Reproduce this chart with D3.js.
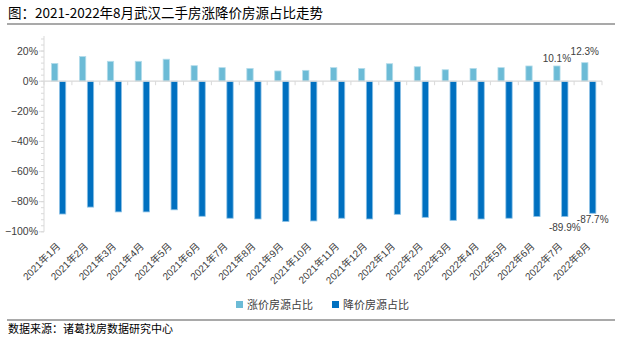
<!DOCTYPE html>
<html><head><meta charset="utf-8">
<script src="https://cdn.jsdelivr.net/npm/d3@7"></script>
<style>body{margin:0;background:#fff}svg{display:block}</style>
</head><body>
<script>
const categories = ["2021年1月","2021年2月","2021年3月","2021年4月","2021年5月","2021年6月","2021年7月","2021年8月","2021年9月","2021年10月","2021年11月","2021年12月","2022年1月","2022年2月","2022年3月","2022年4月","2022年5月","2022年6月","2022年7月","2022年8月"];
const riseShare = [11.8,16.4,13.2,13.2,14.6,10.3,9.0,8.5,6.8,7.2,9.0,8.5,11.6,9.6,7.6,8.5,9.0,10.1,10.1,12.3];
const fallShare = [-88.2,-83.6,-86.8,-86.8,-85.4,-89.7,-91.0,-91.5,-93.2,-92.8,-91.0,-91.5,-88.4,-90.4,-92.4,-91.5,-91.0,-89.9,-89.9,-87.7];
const seriesNames = ["涨价房源占比","降价房源占比"];
const yTicks = [-100,-80,-60,-40,-20,0,20];
const labeledIndex = [18,19];

const W=623,H=341;
const colors=["#6CBBD6","#0070C0"];
const strokes=["#B5DDEB","#8EC3E6"];
const svg=d3.select("body").append("svg").attr("width",W).attr("height",H);
const cjk="'Noto Sans CJK SC','Microsoft YaHei',sans-serif";
const lat="'Liberation Sans',Arial,'Noto Sans CJK SC',sans-serif";

// title
svg.append("text").attr("x",8).attr("y",18).attr("font-family",cjk).attr("font-size",13.5).attr("fill","#000")
  .text("图：2021-2022年8月武汉二手房涨降价房源占比走势");
svg.append("line").attr("x1",7).attr("x2",615).attr("y1",24).attr("y2",24).attr("stroke","#8c8c8c").attr("stroke-width",1.5);

const x=d3.scaleBand().domain(categories).range([44,602]).padding(0);
const inner=d3.scaleBand().domain([0,1]).range([x.bandwidth()*0.27,x.bandwidth()*0.78]).paddingInner(0.2);
const y=d3.scaleLinear().domain([-100,30]).range([231.8,36]);

// y axis
const ya=svg.append("g").attr("transform","translate(44,0)");
ya.append("line").attr("y1",y(30)).attr("y2",y(-100)).attr("stroke","#d9d9d9");
ya.selectAll("line.minor").data(d3.range(-100,30,4)).join("line").attr("class","minor")
  .attr("x1",-3).attr("x2",0).attr("y1",d=>y(d)).attr("y2",d=>y(d)).attr("stroke","#d9d9d9");
ya.selectAll("line.major").data(yTicks).join("line").attr("class","major")
  .attr("x1",-5).attr("x2",0).attr("y1",d=>y(d)).attr("y2",d=>y(d)).attr("stroke","#d9d9d9");
ya.selectAll("text").data(yTicks).join("text").attr("x",-6).attr("y",d=>y(d)).attr("dy","0.35em")
  .attr("text-anchor","end").attr("font-family",lat).attr("font-size",10.5).attr("fill","#404040")
  .text(d=>(d<0?"−"+(-d):d)+"%");

// bars
const g=svg.append("g");
[riseShare,fallShare].forEach((vals,s)=>{
  g.selectAll("rect.s"+s).data(vals).join("rect").attr("class","s"+s)
   .attr("x",(d,i)=>x(categories[i])+inner(s)).attr("width",inner.bandwidth())
   .attr("y",d=>y(Math.max(0,d))).attr("height",d=>Math.abs(y(d)-y(0)))
   .attr("fill",colors[s]).attr("stroke",strokes[s]).attr("stroke-width",0.8);
});

// x axis at zero
const xa=svg.append("g");
xa.append("line").attr("x1",44).attr("x2",602).attr("y1",y(0)).attr("y2",y(0)).attr("stroke","#d9d9d9").attr("stroke-width",1.2);
xa.selectAll("line.t").data(d3.range(categories.length+1)).join("line").attr("class","t")
  .attr("x1",i=>44+i*x.step()).attr("x2",i=>44+i*x.step()).attr("y1",y(0)).attr("y2",y(0)+4).attr("stroke","#d9d9d9");
xa.selectAll("text").data(categories).join("text")
  .attr("transform",d=>`translate(${x(d)+x.bandwidth()/2+3},247) rotate(-45)`)
  .attr("text-anchor","end").attr("font-family",lat).attr("font-size",10).attr("fill","#404040").text(d=>d);

// data labels
labeledIndex.forEach((i,k)=>{
  const cx=x(categories[i]);
  svg.append("text").attr("x",cx+inner(0)+inner.bandwidth()/2).attr("y",y(riseShare[i])-(k?8:4))
    .attr("text-anchor","middle").attr("font-family",lat).attr("font-size",10).attr("fill","#404040")
    .text(riseShare[i].toFixed(1)+"%");
  svg.append("text").attr("x",cx+inner(1)+inner.bandwidth()/2).attr("y",y(fallShare[i])+(k?10:14))
    .attr("text-anchor","middle").attr("font-family",lat).attr("font-size",10).attr("fill","#404040")
    .text(fallShare[i].toFixed(1)+"%");
});

// legend
const lg=svg.append("g");
[[236,0],[332,1]].forEach(([lx,s])=>{
  lg.append("rect").attr("x",lx).attr("y",301).attr("width",7).attr("height",7).attr("fill",colors[s]);
  lg.append("text").attr("x",lx+11).attr("y",309).attr("font-family",cjk).attr("font-size",11).attr("fill","#404040").text(seriesNames[s]);
});

// footer
svg.append("line").attr("x1",7).attr("x2",615).attr("y1",320).attr("y2",320).attr("stroke","#8c8c8c").attr("stroke-width",1.5);
svg.append("text").attr("x",8).attr("y",333).attr("font-family",cjk).attr("font-size",11).attr("fill","#000")
  .text("数据来源：诸葛找房数据研究中心");
</script>
</body></html>
